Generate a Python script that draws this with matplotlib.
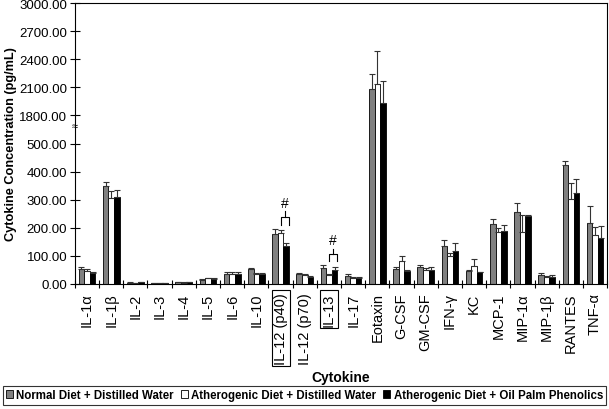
import numpy as np
import matplotlib
matplotlib.use("Agg")
import matplotlib.pyplot as plt
from matplotlib.patches import Patch

plt.rcParams["font.family"] = ["Liberation Sans", "DejaVu Sans"]

# Data (pg/mL)
cytokines = ["IL-1α", "IL-1β", "IL-2", "IL-3", "IL-4", "IL-5", "IL-6", "IL-10",
             "IL-12 (p40)", "IL-12 (p70)", "IL-13", "IL-17", "Eotaxin", "G-CSF",
             "GM-CSF", "IFN-γ", "KC", "MCP-1", "MIP-1α", "MIP-1β", "RANTES", "TNF-α"]
normal = [55, 347, 5, 3, 6, 15, 35, 54, 177, 36, 57, 30, 2086, 54, 62, 135, 45,
          213, 256, 32, 422, 217]
normal_err = [5, 16, 1, 1, 1, 2, 6, 4, 20, 4, 10, 4, 157, 6, 7, 22, 4, 18, 32, 8, 16, 60]
athero = [45, 306, 4, 2, 5, 20, 37, 37, 180, 32, 32, 20, 2132, 81, 51, 100, 64,
          185, 185, 25, 304, 176]
athero_err = [8, 25, 1, 1, 1, 2, 6, 3, 12, 4, 3, 3, 354, 17, 7, 10, 26, 14, 60, 4, 54, 25]
phenol = [38, 311, 6, 2, 6, 19, 35, 37, 136, 26, 49, 22, 1933, 47, 51, 118, 42,
          190, 243, 23, 325, 163]
phenol_err = [3, 25, 1, 1, 1, 2, 6, 3, 9, 3, 12, 2, 239, 2, 10, 27, 2, 20, 3, 9, 47, 42]
series_names = ["Normal Diet + Distilled Water", "Atherogenic Diet + Distilled Water",
                "Atherogenic Diet + Oil Palm Phenolics"]
ytick_vals = [0, 100, 200, 300, 400, 500, 1800, 2100, 2400, 2700, 3000]
boxed = ["IL-12 (p40)", "IL-13"]

# broken axis: 0-500 and 1800-3000
brk_data = [0, 500, 1800, 3000]
brk_pos = [0, 5, 6, 10]


def fwd(v):
    return np.interp(v, brk_data, brk_pos)


def inv(v):
    return np.interp(v, brk_pos, brk_data)


fig = plt.figure(figsize=(6.09, 4.10), dpi=100)
ax = fig.add_axes([0.123, 0.305, 0.874, 0.685])
ax.set_yscale("function", functions=(fwd, inv))

x = np.arange(len(cytokines))
w = 0.23
colors = ["#808080", "white", "black"]
groups = [(normal, normal_err), (athero, athero_err), (phenol, phenol_err)]
for i, ((vals, errs), c) in enumerate(zip(groups, colors)):
    errs = np.array(errs)
    ax.bar(x + (i - 1) * w, vals, w, color=c, edgecolor="black", linewidth=0.6,
           yerr=[np.zeros_like(errs), errs], error_kw=dict(ecolor="#333333", elinewidth=0.8,
                                                          capsize=2, capthick=0.8))

ax.set_xlim(-0.5, len(cytokines) - 0.5)
ax.set_ylim(0, 3000)
ax.set_yticks(ytick_vals)
ax.set_yticklabels(["%.2f" % v for v in ytick_vals], fontsize=9.5)
ax.tick_params(axis="y", direction="inout", length=7, width=0.8, pad=2)

ax.set_xticks(x)
ax.set_xticklabels(cytokines, rotation=90, fontsize=10.5)
ax.tick_params(axis="x", length=0, pad=6)
ax.set_xticks(np.arange(len(cytokines) + 1) - 0.5, minor=True)
ax.tick_params(axis="x", which="minor", direction="inout", length=6, width=0.8)
for lbl in ax.get_xticklabels():
    if lbl.get_text() in boxed:
        lbl.set_bbox(dict(facecolor="none", edgecolor="black", linewidth=0.8, pad=1.5))

for s in ax.spines.values():
    s.set_linewidth(0.8)

# break marker
ax.text(0, 1300, "≈", transform=ax.get_yaxis_transform(), ha="center", va="center",
        fontsize=8)

# significance brackets
def bracket(idx, y0, y1, y2, ytxt):
    xa = idx
    xb = idx + w + 0.1
    xm = (xa + xb) / 2
    ax.plot([xa, xa, xb, xb], [y0, y1, y1, y0], color="black", lw=0.8)
    ax.plot([xm, xm], [y1, y2], color="black", lw=0.8)
    ax.text(xm, ytxt, "#", ha="center", va="center", fontsize=10)


bracket(cytokines.index("IL-12 (p40)"), 211, 239, 260, 288)
bracket(cytokines.index("IL-13"), 80, 107, 125, 158)

ax.set_ylabel("Cytokine Concentration (pg/mL)", fontsize=9.2, fontweight="bold")
ax.yaxis.set_label_coords(-0.108, 0.5)
ax.set_xlabel("Cytokine", fontsize=10, fontweight="bold", labelpad=4)

handles = [Patch(facecolor=c, edgecolor="black", linewidth=0.6) for c in colors]
leg = fig.legend(handles, series_names, loc="lower center", bbox_to_anchor=(0.5, 0.005),
                 ncol=3, frameon=True, fancybox=False, edgecolor="black",
                 handlelength=0.6, handleheight=0.6, handletextpad=0.3, columnspacing=0.6,
                 borderpad=0.3, borderaxespad=0.2, prop=dict(weight="bold", size=8.3))
leg.get_frame().set_linewidth(0.8)

fig.savefig("out.png", dpi=100)
